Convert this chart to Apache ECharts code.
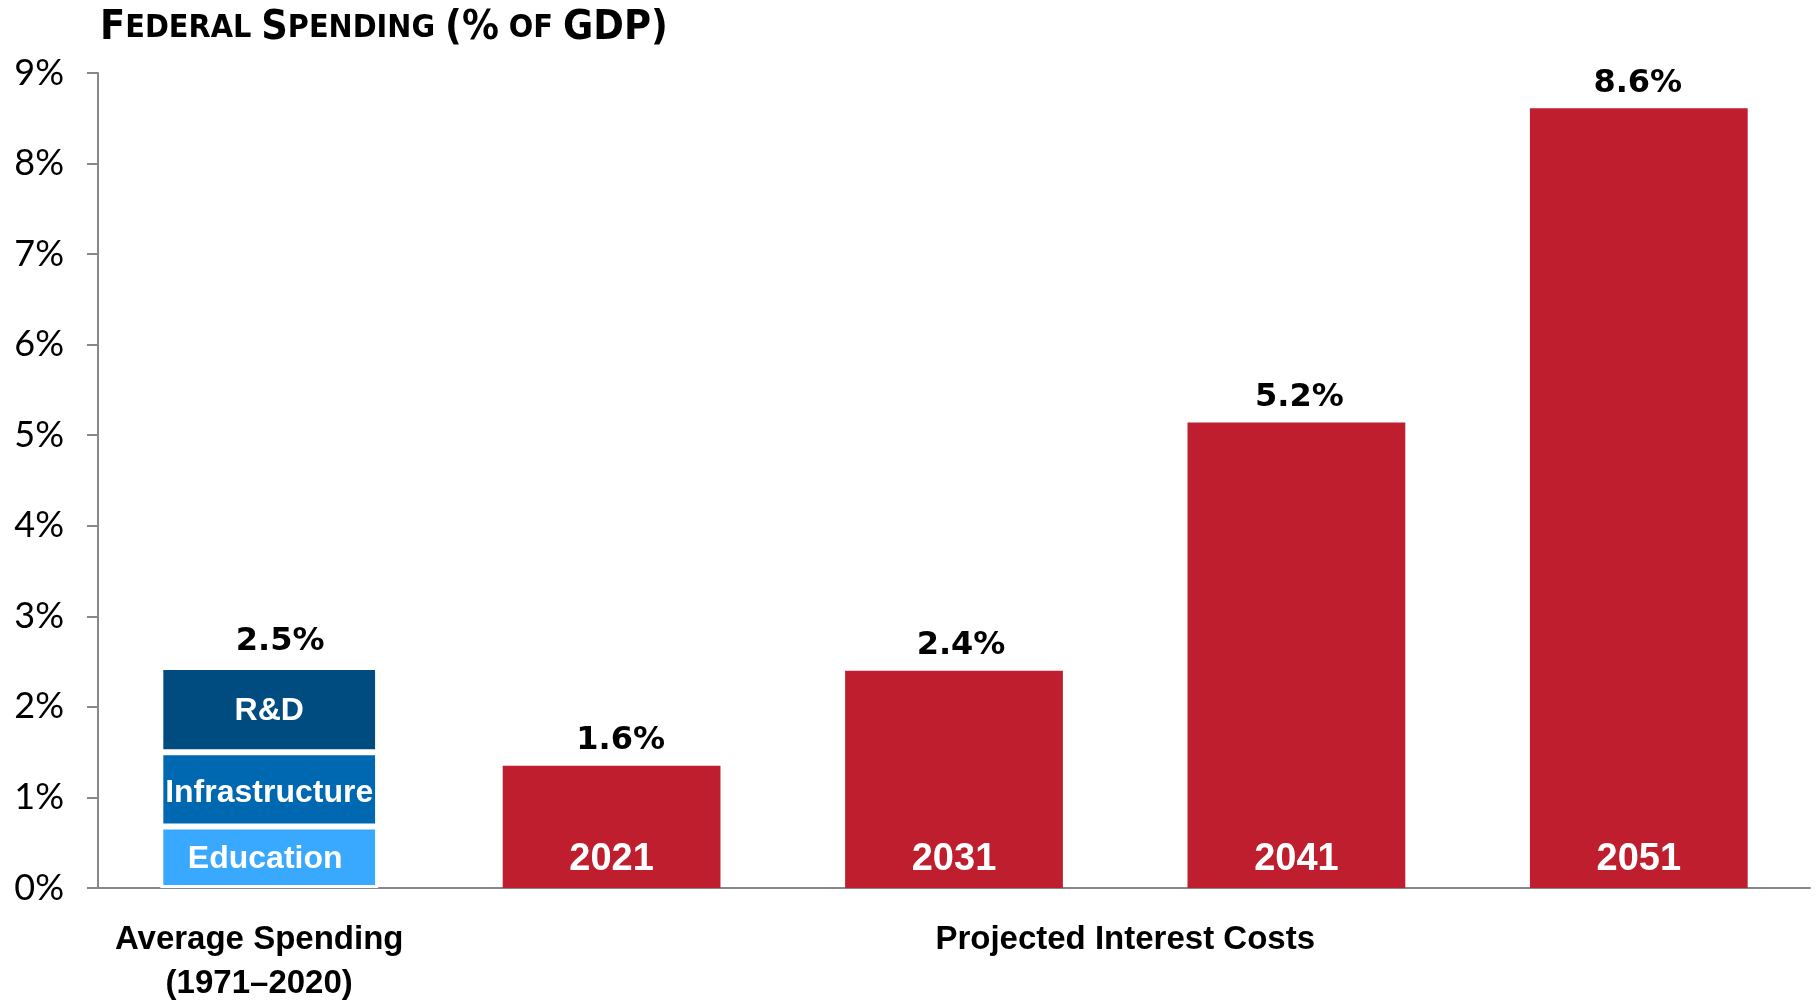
<!DOCTYPE html>
<html>
<head>
<meta charset="utf-8">
<script src="https://cdn.jsdelivr.net/npm/echarts@6/dist/echarts.min.js"></script>
<style>
html,body{margin:0;padding:0;background:#fff;}
#chart{width:1816px;height:1001px;}
</style>
</head>
<body>
<div id="chart"></div>
<script>
// ---- data ----
var categories = ['Average Spending\n(1971\u20132020)', '2021', '2031', '2041', '2051'];
var education = [0.68];
var infrastructure = [0.82];
var rnd = [0.94];
var interest = [1.35, 2.40, 5.14, 8.61];
var valueLabels = ['2.5%', '1.6%', '2.4%', '5.2%', '8.6%'];
var yTicks = [0, 1, 2, 3, 4, 5, 6, 7, 8, 9];
var groupLabel = 'Projected Interest Costs';

// label nudges (style only)
var labelNudgeX = [11, 9, 7, 3, -1];

var BOLD = "'Liberation Sans', Arial, sans-serif";
var NARROW = "'Liberation Sans Narrow', 'DejaVu Sans Condensed', 'Liberation Sans', sans-serif";

function pad(arr, before, total) {
  var out = [];
  for (var i = 0; i < total; i++) {
    var j = i - before;
    out.push(j >= 0 && j < arr.length ? arr[j] : '-');
  }
  return out;
}
var n = categories.length;

var chart = echarts.init(document.getElementById('chart'));
var segLabel = function (name, offset) {
  return {
    show: true, position: 'inside', color: '#fff', fontFamily: BOLD,
    fontWeight: 'bold', fontSize: 32, offset: offset || [0, 2],
    formatter: function () { return name; }
  };
};
var segStyle = function (c) { return { color: c, borderColor: '#fff', borderWidth: 3 }; };

var totalData = categories.map(function (c, i) {
  return { value: 0, label: { offset: [labelNudgeX[i], 0] } };
});

chart.setOption({
  animation: false,
  title: {
    left: 100, top: 8, padding: 0,
    text: '{b|F}{s|EDERAL }{b|S}{s|PENDING }{b|(%}{s| OF }{b|GDP)}',
    textStyle: {
      rich: {
        b: { fontFamily: NARROW, fontWeight: 'bold', fontSize: 41, color: '#000' },
        s: { fontFamily: NARROW, fontWeight: 'bold', fontSize: 32, color: '#000' }
      }
    }
  },
  grid: { left: 98, right: 6, top: 73, bottom: 113, containLabel: false, outerBoundsMode: 'none' },
  xAxis: {
    type: 'category', data: categories,
    axisLine: { lineStyle: { color: '#888', width: 2 } },
    axisTick: { show: false },
    axisLabel: {
      interval: 0, margin: 30, lineHeight: 44, padding: [0, 20, 0, 0],
      fontFamily: BOLD, fontWeight: 'bold', fontSize: 33, color: '#000',
      formatter: function (v, i) { return i === 0 ? v : ''; }
    }
  },
  yAxis: {
    type: 'value', min: yTicks[0], max: yTicks[yTicks.length - 1], interval: 1,
    splitLine: { show: false },
    axisLine: { show: true, lineStyle: { color: '#888', width: 2 } },
    axisTick: { show: true, length: 11, lineStyle: { color: '#888', width: 2 } },
    axisLabel: {
      margin: 34, fontFamily: "Lato, 'Liberation Sans', sans-serif", fontSize: 36, color: '#000',
      formatter: '{value}%'
    }
  },
  series: [
    { name: 'Education', type: 'bar', stack: 'a', barWidth: '63.6%',
      data: pad(education, 0, n), itemStyle: segStyle('#39A9FF'), label: segLabel('Education', [-4, 2]) },
    { name: 'Infrastructure', type: 'bar', stack: 'a', barWidth: '63.6%',
      data: pad(infrastructure, 0, n), itemStyle: segStyle('#0067B1'), label: segLabel('Infrastructure', [0, 4]) },
    { name: 'R&D', type: 'bar', stack: 'a', barWidth: '63.6%',
      data: pad(rnd, 0, n), itemStyle: segStyle('#004B80'), label: segLabel('R&D') },
    { name: 'Interest', type: 'bar', stack: 'a', barWidth: '63.6%',
      data: pad(interest, 1, n), itemStyle: { color: '#BE1E2D' },
      label: { show: true, position: 'insideBottom', distance: 9, color: '#fff',
        fontFamily: BOLD, fontWeight: 'bold', fontSize: 38,
        formatter: function (p) { return categories[p.dataIndex]; } } },
    { name: 'Total', type: 'bar', stack: 'a', barWidth: '63.6%',
      data: totalData,
      itemStyle: { color: 'rgba(0,0,0,0)' },
      label: { show: true, position: 'top', distance: 9, color: '#000',
        fontFamily: "'DejaVu Sans', sans-serif", fontWeight: 'bold', fontSize: 32,
        formatter: function (p) { return valueLabels[p.dataIndex]; } } }
  ]
});

var x1 = chart.convertToPixel({ xAxisIndex: 0 }, categories[1]);
var x2 = chart.convertToPixel({ xAxisIndex: 0 }, categories[n - 1]);
var y0 = chart.convertToPixel({ yAxisIndex: 0 }, 0);
chart.setOption({
  graphic: [{
    type: 'text', x: (x1 + x2) / 2, y: y0 + 30,
    style: { text: groupLabel, fontFamily: BOLD, fontWeight: 'bold', fontSize: 33,
      lineHeight: 44, fill: '#000', align: 'center', verticalAlign: 'top' }
  }]
});
</script>
</body>
</html>
